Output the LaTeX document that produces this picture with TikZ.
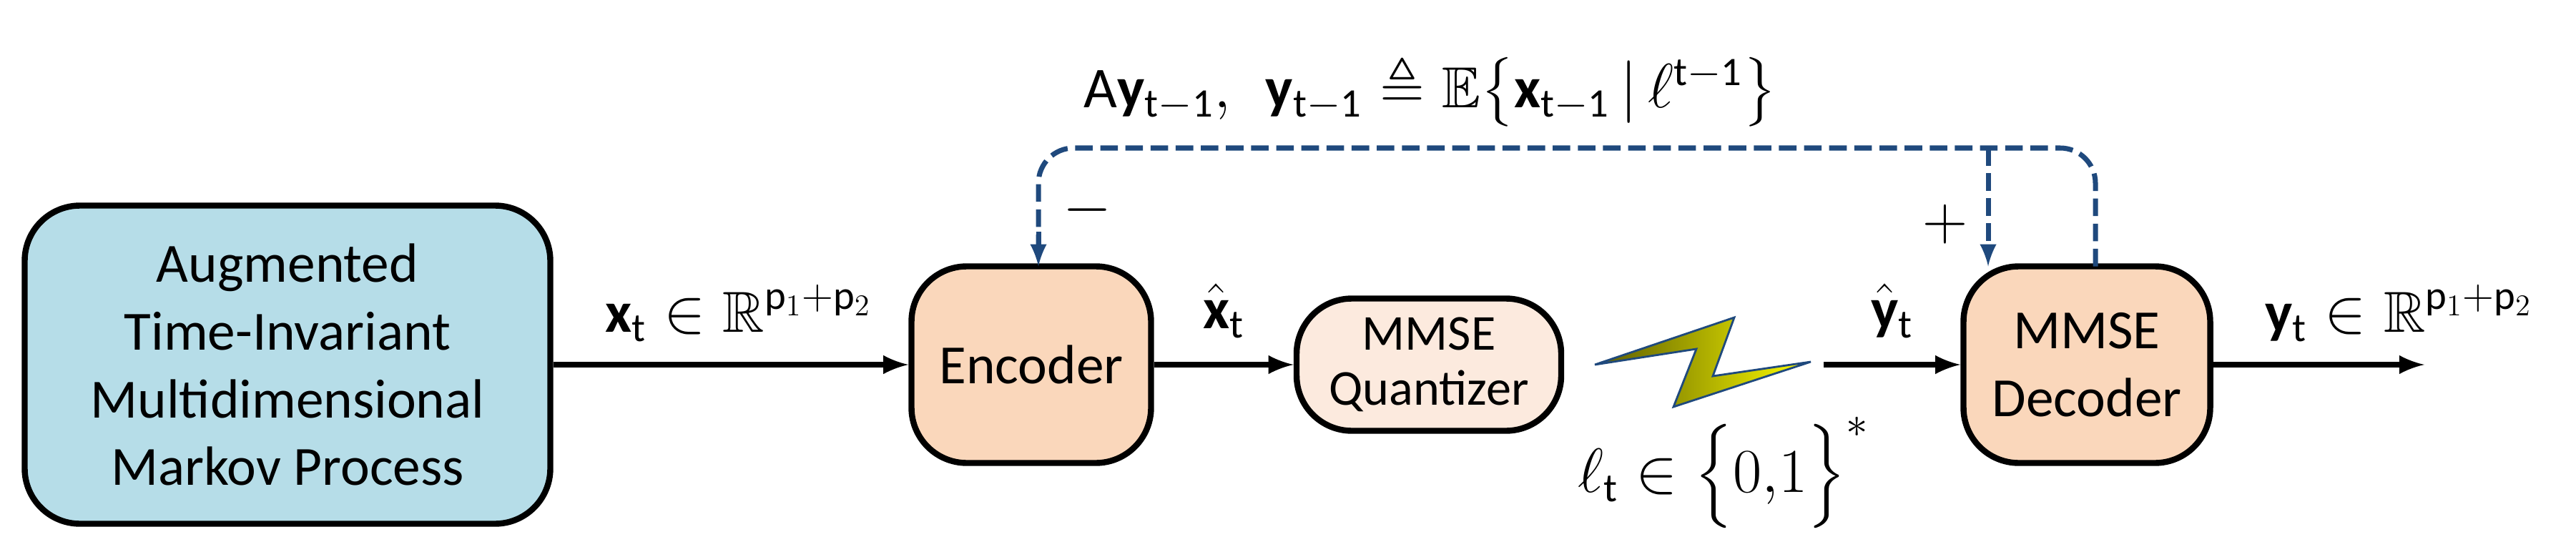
\documentclass[tikz,border=0pt]{standalone}
\usepackage{amsmath,amssymb}
\usepackage{fontspec}
\setmainfont{Carlito}
\setsansfont{Carlito}
\usetikzlibrary{positioning}
\definecolor{procblue}{RGB}{182,221,232}
\definecolor{blockorange}{RGB}{250,215,187}
\definecolor{quantpink}{RGB}{252,234,222}
\definecolor{fbblue}{RGB}{31,73,125}
\tikzset{
  block/.style={draw, line width=2.4pt, rounded corners=22pt, align=center,
    font=\fontsize{22}{27}\selectfont},
  sig/.style={->, line width=2.4pt, >={latex}},
  fb/.style={fbblue, line width=2pt, dashed, dash pattern=on 7pt off 3pt},
  lbl/.style={font=\fontsize{23}{26}\selectfont}
}
\begin{document}
\begin{tikzpicture}
\useasboundingbox (0,0) rectangle (36.02,7.64);
% blocks
\node[block, fill=procblue, minimum width=7.35cm, minimum height=4.45cm] (markov) at (4.02,2.54)
  {Augmented\\Time-Invariant\\Multidimensional\\Markov Process};
\node[block, fill=blockorange, minimum width=3.35cm, minimum height=2.75cm] (enc) at (14.42,2.54) {Encoder};
\node[block, fill=quantpink, minimum width=3.7cm, minimum height=1.85cm, inner sep=1pt,
  font=\fontsize{20}{22}\selectfont] (quant) at (19.98,2.54) {MMSE\\Quantizer};
\node[block, fill=blockorange, minimum width=3.45cm, minimum height=2.75cm] (dec) at (29.18,2.54) {MMSE\\Decoder};
\coordinate (out) at (33.9,2.54);
\coordinate (rx) at (25.5,2.54);

% forward path
\draw[sig] (markov) -- (enc);
\node[lbl, above right=0.2cm and 0.6cm of markov.east] (xlbl) {$\mathbf{x}_{\mathsf{t}}\in\mathbb{R}^{\mathsf{p}_1+\mathsf{p}_2}$};
\draw[sig] (enc) -- node[lbl, above=6pt] {$\hat{\mathbf{x}}_{\mathsf{t}}$} (quant);
\draw[sig] (rx) -- node[lbl, above=6pt] {$\hat{\mathbf{y}}_{\mathsf{t}}$} (dec);
\draw[sig] (dec) -- (out);
\node[lbl, above right=0.2cm and 0.6cm of dec.east] (ylbl) {$\mathbf{y}_{\mathsf{t}}\in\mathbb{R}^{\mathsf{p}_1+\mathsf{p}_2}$};

% channel
\shade[draw=fbblue, line width=0.8pt, left color=olive!70!black, right color=yellow]
  (22.3,2.54) -- (24.25,3.2) -- (23.95,2.38) -- (25.32,2.58) -- (23.4,1.95) -- (23.72,2.76) -- cycle;
\node[lbl] (bits) at (24.1,1.0) {$\ell_{\mathsf{t}}\in\Bigl\{0{,}1\Bigr\}^{*}$};

% feedback
\coordinate (fbr) at (29.3,5.57);
\coordinate (fbl) at (14.52,5.57);
\draw[fb, rounded corners=14pt] (29.3,3.915) -- (fbr) -- (fbl) -- (14.52,4.1);
\draw[fb, ->, >={latex}] (14.52,4.4) -- (14.52,3.915);
\draw[fb, ->, >={latex}] (27.8,5.57) -- (27.8,3.915);
\node[lbl] at (15.2,4.7) {$-$};
\node[lbl] at (27.2,4.5) {$+$};
\node[lbl] (fblabel) at (20.0,6.35) {$\mathsf{A}\mathbf{y}_{\mathsf{t-1}}{,}\;\; \mathbf{y}_{\mathsf{t-1}}\triangleq\mathbb{E}\bigl\{\mathbf{x}_{\mathsf{t-1}}\,|\,\ell^{\mathsf{t-1}}\bigr\}$};
\end{tikzpicture}
\end{document}
